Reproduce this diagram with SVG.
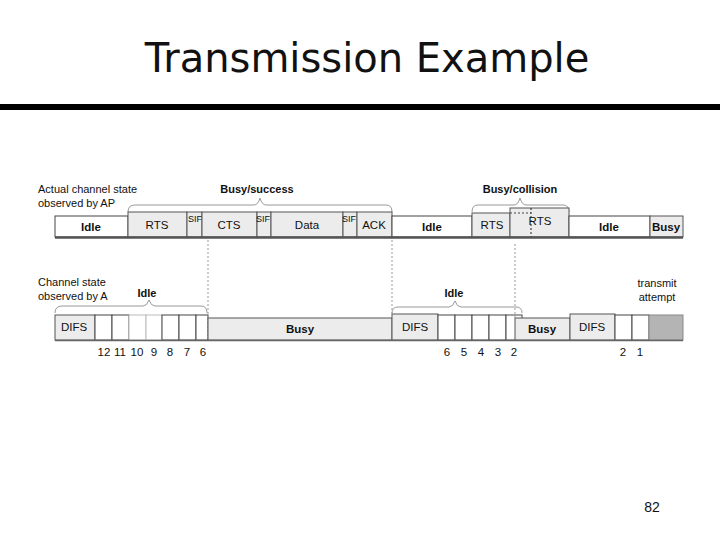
<svg xmlns="http://www.w3.org/2000/svg" width="720" height="540" viewBox="0 0 720 540">
<style>
text{font-family:"Liberation Sans",Arial,sans-serif;fill:#111}
.lbl{font-size:11px}
.box{font-size:11.5px;text-anchor:middle}
.b{font-weight:bold}
.g{fill:#ececec;stroke:#555;stroke-width:1}
.w{fill:#fff;stroke:#444;stroke-width:1}
.brace{fill:none;stroke:#999;stroke-width:1}
.dot{stroke:#999;stroke-width:1;stroke-dasharray:2 2;fill:none}
</style>
<rect width="720" height="540" fill="#fff"/>
<text x="367" y="72" font-size="40" text-anchor="middle" style="font-family:'DejaVu Sans',sans-serif">Transmission Example</text>
<rect x="0" y="104" width="720" height="6" fill="#000"/>

<g id="ap-row">
<text class="lbl" x="38" y="193">Actual channel state</text>
<text class="lbl" x="38" y="207">observed by AP</text>
<text class="lbl b" x="257" y="193" text-anchor="middle">Busy/success</text>
<text class="lbl b" x="520" y="193" text-anchor="middle">Busy/collision</text>
<path class="brace" d="M128,212 Q128,205 135,205 L254,205 Q258,205 260,198 Q262,205 266,205 L386,205 Q392,205 392,212"/>
<path class="brace" d="M472,212 Q472,205 478,205 L514,205 Q518,205 520,198 Q522,205 526,205 L563,205 Q569,205 569,212"/>
<g id="ap-idle1"><rect class="w" x="55" y="216" width="73" height="21"/><text class="box b" x="91" y="231">Idle</text></g>
<g id="ap-rts"><rect class="g" x="128" y="212" width="59" height="25"/><text class="box" x="157" y="229">RTS</text></g>
<g id="ap-sif1"><rect class="g" x="187" y="212" width="15" height="25"/><text class="box" x="195" y="222" style="font-size:9px">SIF</text></g>
<g id="ap-cts"><rect class="g" x="202" y="212" width="55" height="25"/><text class="box" x="229" y="229">CTS</text></g>
<g id="ap-sif2"><rect class="g" x="257" y="212" width="14" height="25"/><text class="box" x="263" y="222" style="font-size:9px">SIF</text></g>
<g id="ap-data"><rect class="g" x="271" y="212" width="72" height="25"/><text class="box" x="307" y="229">Data</text></g>
<g id="ap-sif3"><rect class="g" x="343" y="212" width="14" height="25"/><text class="box" x="349" y="222" style="font-size:9px">SIF</text></g>
<g id="ap-ack"><rect class="g" x="357" y="212" width="35" height="25"/><text class="box" x="374" y="229">ACK</text></g>
<g id="ap-idle2"><rect class="w" x="392" y="216" width="80" height="21"/><text class="box b" x="432" y="231">Idle</text></g>
<g id="ap-rts1"><rect class="g" x="472" y="213" width="38" height="24"/><text class="box" x="492" y="229">RTS</text></g>
<g id="ap-rts2"><rect class="g" x="510" y="208" width="59" height="29"/><text class="box" x="540" y="225">RTS</text>
<line class="dot" x1="510" y1="213" x2="531" y2="213" style="stroke:#444"/><line class="dot" x1="531" y1="208" x2="531" y2="238" style="stroke:#222"/></g>
<g id="ap-idle3"><rect class="w" x="569" y="216" width="81" height="21"/><text class="box b" x="609" y="231">Idle</text></g>
<g id="ap-busy"><rect class="g" x="650" y="216" width="33" height="21"/><text class="box b" x="666" y="231">Busy</text></g>
<line x1="55" y1="237.5" x2="683" y2="237.5" stroke="#555" stroke-width="2.5"/>
</g>

<g id="a-row">
<text class="lbl" x="38" y="286">Channel state</text>
<text class="lbl" x="38" y="300">observed by A</text>
<text class="lbl b" x="147" y="297" text-anchor="middle">Idle</text>
<text class="lbl b" x="454" y="297" text-anchor="middle">Idle</text>
<text class="lbl" x="657" y="287" text-anchor="middle">transmit</text>
<text class="lbl" x="657" y="301" text-anchor="middle">attempt</text>
<path class="brace" d="M55,313 Q55,306 62,306 L143,306 Q147,306 149,300 Q151,306 155,306 L201,306 Q207,306 207,313"/>
<path class="brace" d="M392,313 Q392,307 398,307 L449,307 Q453,307 455,301 Q457,307 461,307 L516,307 Q522,307 522,313"/>
<g id="a-difs1"><rect class="g" x="55" y="315" width="40" height="25"/><text class="box" x="74" y="331">DIFS</text></g>
<g id="a-slots1">
<rect class="w" x="95" y="315" width="17" height="25"/>
<rect class="w" x="112" y="315" width="17" height="25"/>
<rect class="w" x="129" y="315" width="17" height="25" style="stroke:#bbb"/>
<rect class="w" x="146" y="315" width="16" height="25" style="stroke:#bbb"/>
<rect class="w" x="162" y="315" width="17" height="25"/>
<rect class="w" x="179" y="315" width="17" height="25"/>
<rect class="w" x="196" y="315" width="12" height="25"/>
<text class="box" x="104" y="356">12</text><text class="box" x="120" y="356">11</text><text class="box" x="137" y="356">10</text>
<text class="box" x="154" y="356">9</text><text class="box" x="170" y="356">8</text><text class="box" x="187" y="356">7</text><text class="box" x="203" y="356">6</text>
</g>
<g id="a-busy1"><rect class="g" x="208" y="318" width="184" height="22"/><text class="box b" x="300" y="333">Busy</text></g>
<g id="a-difs2"><rect class="g" x="392" y="314" width="46" height="26"/><text class="box" x="415" y="331">DIFS</text></g>
<g id="a-slots2">
<rect class="w" x="438" y="315" width="17" height="25"/>
<rect class="w" x="455" y="315" width="17" height="25"/>
<rect class="w" x="472" y="315" width="17" height="25"/>
<rect class="w" x="489" y="315" width="17" height="25"/>
<rect class="w" x="506" y="315" width="16" height="25"/>
<text class="box" x="447" y="356">6</text><text class="box" x="464" y="356">5</text><text class="box" x="481" y="356">4</text>
<text class="box" x="498" y="356">3</text><text class="box" x="514" y="356">2</text>
</g>
<g id="a-busy2"><rect class="g" x="515" y="318" width="55" height="22"/><text class="box b" x="542" y="333">Busy</text></g>
<g id="a-difs3"><rect class="g" x="570" y="314" width="45" height="26"/><text class="box" x="592" y="331">DIFS</text></g>
<g id="a-slots3">
<rect class="w" x="615" y="315" width="17" height="25"/>
<rect class="w" x="632" y="315" width="17" height="25"/>
<text class="box" x="623" y="356">2</text><text class="box" x="640" y="356">1</text>
</g>
<g id="a-tx"><rect x="649" y="315" width="34" height="25" fill="#b4b4b4" stroke="#888"/></g>
<line x1="55" y1="340.5" x2="683" y2="340.5" stroke="#666" stroke-width="1.5"/>
</g>

<g id="connectors">
<line class="dot" x1="208" y1="240" x2="208" y2="340"/>
<line class="dot" x1="392" y1="240" x2="392" y2="314"/>
<line class="dot" x1="515" y1="244" x2="515" y2="318"/>
</g>

<text x="652" y="512" font-size="14" text-anchor="middle">82</text>
</svg>
